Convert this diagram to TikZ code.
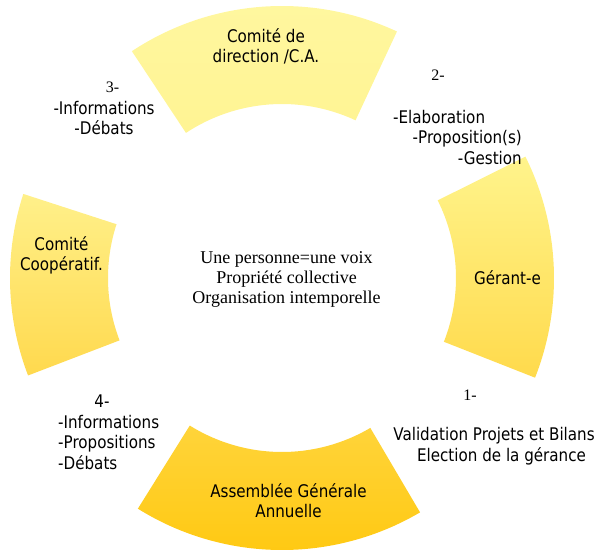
\documentclass[tikz,border=0pt]{standalone}
\usepackage{fontspec}
\setmainfont{Liberation Serif}
\newfontfamily\labelfont{DejaVu Sans}[FakeStretch=0.87]
\usetikzlibrary{calc}

% fill colours of the four ring segments (light at the top, deeper at the bottom)
\definecolor{segTopA}{HTML}{FFF7A0}
\definecolor{segTopB}{HTML}{FFF493}
\definecolor{segRightA}{HTML}{FFF48C}
\definecolor{segRightB}{HTML}{FFDA4C}
\definecolor{segLeftA}{HTML}{FFF08A}
\definecolor{segLeftB}{HTML}{FFD94E}
\definecolor{segBotA}{HTML}{FFD43A}
\definecolor{segBotB}{HTML}{FFC80F}

% ring segment between inner radius 174 and outer radius 272 around (C)
% #1 start angle, #2 end angle, #3 top colour, #4 bottom colour
\newcommand\ringsegment[4]{%
  \shade[top color=#3, bottom color=#4]
    ($(C)+(#1:174pt)$) arc[start angle=#1, end angle=#2, radius=174pt]
    -- ($(C)+(#2:272pt)$) arc[start angle=#2, end angle=#1, radius=272pt]
    -- cycle;}

\begin{document}
\begin{tikzpicture}[x=1pt, y=1pt,
  lbl/.style={font=\labelfont\fontsize{17.4}{20}\selectfont, inner sep=0pt, align=center},
  num/.style={font=\fontsize{16}{20}\selectfont, inner sep=0pt},
  core/.style={font=\fontsize{18}{20}\selectfont, inner sep=0pt, align=center}]

\useasboundingbox (0,0) rectangle (597,-551);
\coordinate (C) at (282,-278);

% the four segments of the cycle
\ringsegment{65}{123.5}{segTopA}{segTopB}
\ringsegment{-21.5}{26.5}{segRightA}{segRightB}
\ringsegment{162}{201}{segLeftA}{segLeftB}
\ringsegment{238}{300.5}{segBotA}{segBotB}

% segment titles (base anchor = baseline of the last line)
\node[lbl, anchor=base] (cda) at (266,-62.5) {Comité de\\direction /C.A.};
\node[lbl, anchor=base] (gerant) at (507.5,-284) {Gérant-e};
\node[lbl, anchor=base] (coop) at (61.5,-270) {Comité\\Coopératif.};
\node[lbl, anchor=base] (ag) at (288.5,-517.5) {Assemblée Générale\\Annuelle};

% centre of the cycle
\node[core, anchor=base] (principes) at (286.5,-303)
  {Une personne=une voix\\Propriété collective\\Organisation intemporelle};

% step 1
\node[num, anchor=base] (n1) at (470,-400) {1-};
\node[lbl, anchor=base] (v1) at (494,-440) {Validation Projets et Bilans};
\node[lbl, anchor=base] (e1) at (501.5,-461) {Election de la gérance};

% step 2
\node[num, anchor=base] (n2) at (438,-80.5) {2-};
\node[lbl, anchor=base west] (e2) at (393,-123) {-Elaboration};
\node[lbl, anchor=base east] (p2) at (522,-143) {-Proposition(s)};
\node[lbl, anchor=base east] (g2) at (522,-164) {-Gestion};

% step 3
\node[num, anchor=base] (n3) at (112.5,-92.5) {3-};
\node[lbl, anchor=base] (i3) at (104,-114) {-Informations};
\node[lbl, anchor=base] (d3) at (104,-134) {-Débats};

% step 4
\node[lbl, anchor=base] (n4) at (102,-407) {4-};
\node[lbl, anchor=base west] (i4) at (58,-428) {-Informations};
\node[lbl, anchor=base west] (p4) at (58,-448) {-Propositions};
\node[lbl, anchor=base west] (d4) at (58,-469) {-Débats};
\end{tikzpicture}
\end{document}
